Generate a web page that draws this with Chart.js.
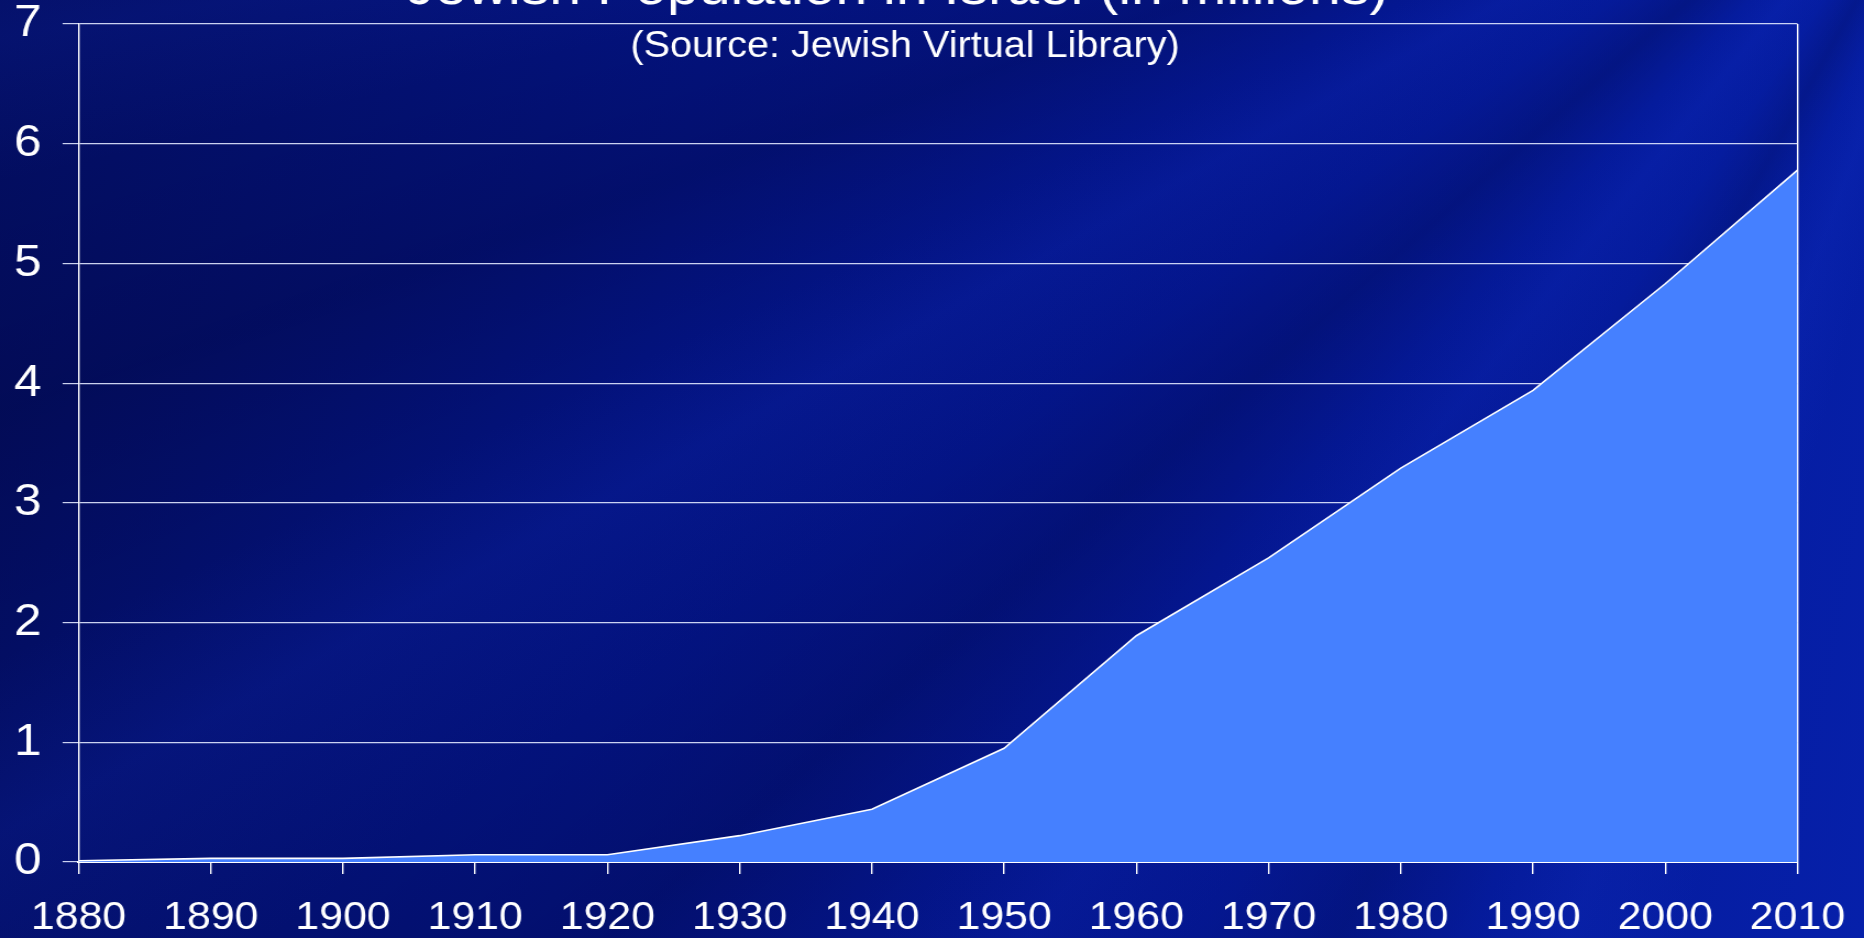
<!DOCTYPE html>
<html>
<head>
<meta charset="utf-8">
<script src="https://cdn.jsdelivr.net/npm/chart.js@4.4.0/dist/chart.umd.min.js"></script>
<style>
    html, body {
        margin: 0;
        padding: 0;
        width: 1864px;
        height: 938px;
        overflow: hidden;
    }
    body {
        background:
            conic-gradient(from 195deg at 108% -30%,
                rgba(0,0,0,0) 0deg, rgba(20,50,200,0.18) 5deg, rgba(0,0,0,0) 9deg,
                rgba(0,0,40,0.18) 14deg, rgba(0,0,0,0) 19deg, rgba(20,50,210,0.15) 24deg,
                rgba(0,0,0,0) 28deg, rgba(0,0,40,0.2) 34deg, rgba(0,0,0,0) 40deg,
                rgba(20,50,210,0.16) 46deg, rgba(0,0,0,0) 50deg, rgba(0,0,40,0.18) 56deg,
                rgba(0,0,0,0) 62deg, rgba(20,50,210,0.14) 66deg, rgba(0,0,0,0) 72deg,
                rgba(0,0,40,0.22) 78deg, rgba(0,0,0,0) 86deg, rgba(0,0,0,0) 360deg),
            linear-gradient(100deg, #030D5E 0%, #03127C 35%, #04168E 65%, #0620AA 100%);
    }
    /* the source slide is stretched a little sideways, so the chart is too */
    #wrap {
        position: relative;
        width: 1695px;
        height: 938px;
        transform: scaleX(1.0997);
        transform-origin: 0 0;
    }
</style>
</head>
<body>
<div id="wrap"><canvas id="popChart"></canvas></div>
<script>
const chartTitle = 'Jewish Population in Israel (in millions)';
const chartSource = '(Source: Jewish Virtual Library)';
const years = ['1880', '1890', '1900', '1910', '1920', '1930', '1940', '1950', '1960', '1970', '1980', '1990', '2000', '2010'];
const population = [0.01, 0.03, 0.03, 0.06, 0.06, 0.22, 0.44, 0.95, 1.89, 2.54, 3.29, 3.94, 4.83, 5.78];
const yTicks = [0, 1, 2, 3, 4, 5, 6, 7];

const FONT = '"Liberation Sans", Arial, sans-serif';

const headings = {
    id: 'headings',
    afterDraw(chart) {
        const ctx = chart.ctx;
        ctx.save();
        ctx.fillStyle = '#ffffff';
        ctx.textAlign = 'center';
        ctx.textBaseline = 'alphabetic';
        ctx.font = '52px ' + FONT;
        ctx.fillText(chartTitle, 816, 4);
        ctx.font = '36px ' + FONT;
        ctx.fillText(chartSource, 823, 57);
        ctx.restore();
    }
};

new Chart(document.getElementById('popChart').getContext('2d'), {
    type: 'line',
    data: {
        labels: years,
        datasets: [
            {
                label: 'Jewish population',
                data: population,
                borderColor: '#ffffff',
                borderWidth: 1.6,
                backgroundColor: '#4580FF',
                fill: 'origin',
                pointRadius: 0,
                tension: 0
            }
        ]
    },
    options: {
        responsive: true,
        maintainAspectRatio: false,
        animation: false,
        layout: { padding: { left: 12, right: 60.5, top: 24, bottom: 0 } },
        plugins: {
            legend: { display: false },
            tooltip: { enabled: false }
        },
        scales: {
            x: {
                offset: false,
                afterFit: (s) => {
                    s.height = 76;
                    s.paddingLeft = 0;
                    s.paddingRight = 0;
                },
                border: { display: true, color: '#ffffff', width: 2 },
                grid: {
                    drawOnChartArea: true,
                    color: (c) => (c.index === years.length - 1 ? '#ffffff' : 'rgba(0,0,0,0)'),
                    tickColor: '#ffffff',
                    tickLength: 12,
                    lineWidth: 1.4
                },
                ticks: {
                    color: '#ffffff',
                    padding: 21,
                    maxRotation: 0,
                    autoSkip: false,
                    font: { family: FONT, size: 39 }
                }
            },
            y: {
                min: 0,
                max: 7,
                afterFit: (s) => {
                    s.width = 59.4;
                    s.paddingTop = 0;
                    s.paddingBottom = 0;
                },
                afterBuildTicks: (s) => { s.ticks = yTicks.map((v) => ({ value: v })); },
                border: { display: true, color: '#ffffff', width: 1.4 },
                grid: {
                    color: 'rgba(225,232,255,0.9)',
                    lineWidth: 1.2,
                    tickLength: 14.5,
                    tickColor: 'rgba(225,232,255,0.9)'
                },
                ticks: {
                    color: '#ffffff',
                    padding: 19,
                    font: { family: FONT, size: 45 }
                }
            }
        }
    },
    plugins: [headings]
});
</script>
</body>
</html>
